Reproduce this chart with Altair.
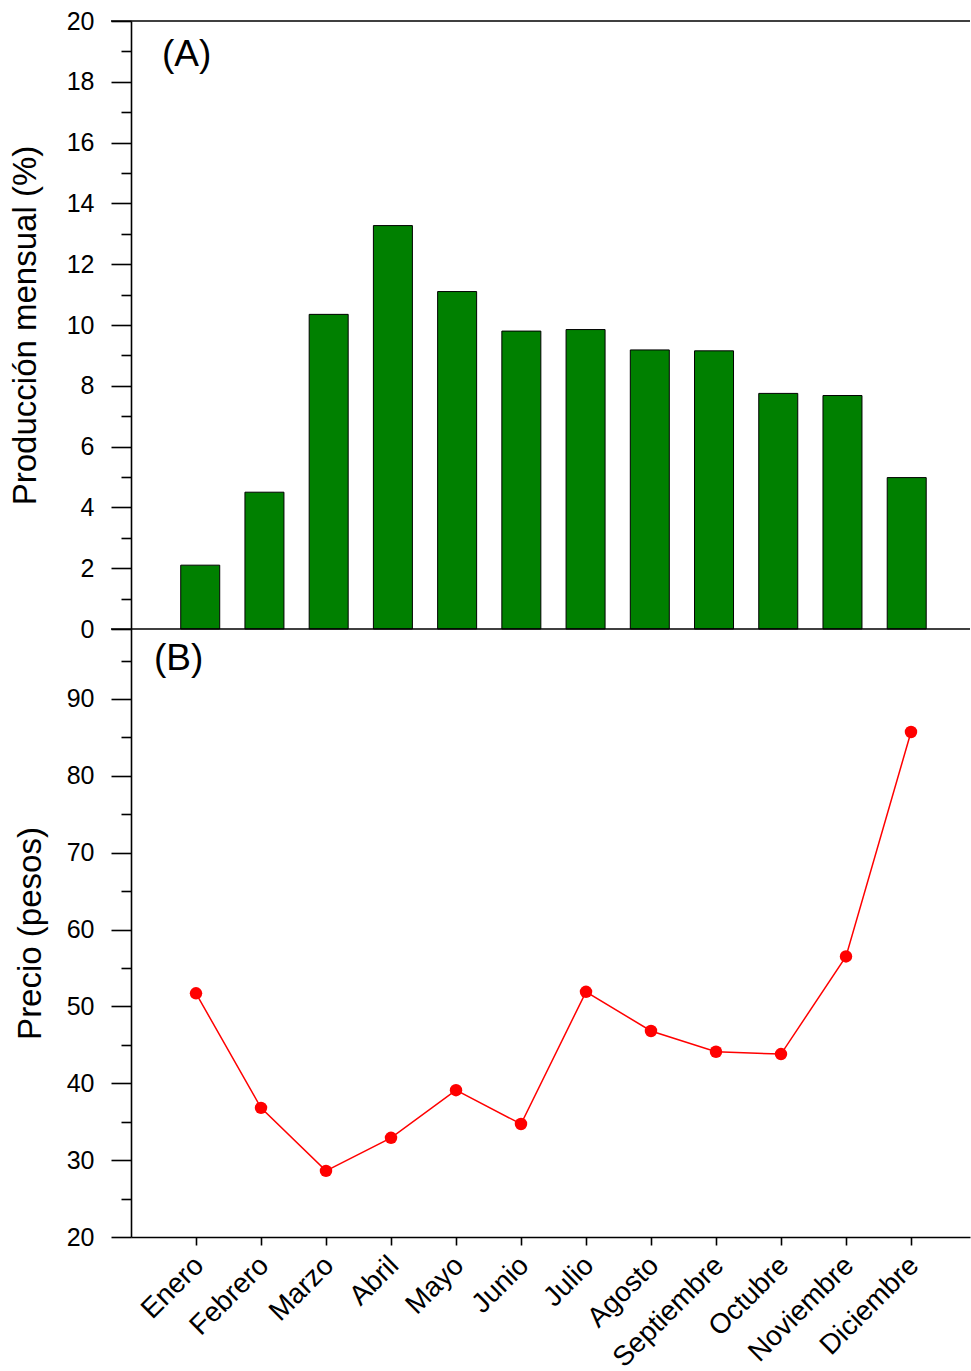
import altair as alt
import pandas as pd

meses = ["Enero", "Febrero", "Marzo", "Abril", "Mayo", "Junio", "Julio",
         "Agosto", "Septiembre", "Octubre", "Noviembre", "Diciembre"]
mes_num = list(range(1, 13))
produccion = [2.1, 4.5, 10.35, 13.27, 11.1, 9.8, 9.85, 9.18, 9.15, 7.75, 7.68, 4.98]
precio = [51.7, 36.8, 28.6, 32.9, 39.1, 34.7, 51.9, 46.8, 44.1, 43.8, 56.5, 85.7]

df = pd.DataFrame({"mes": meses, "n": mes_num, "prod": produccion, "precio": precio})

W = 839
H = 608
FONT = "Liberation Sans"
xmax = W / 65.0

x_scale = alt.Scale(domain=[0, xmax], nice=False, zero=False)

month_expr = "[" + ",".join("'%s'" % m for m in meses) + "][datum.value - 1]"

base = alt.Chart(df)

bars = base.mark_bar(color="#008000", stroke="black", strokeWidth=1, size=39).encode(
    x=alt.X("n:Q", scale=x_scale, axis=None),
    y=alt.Y("prod:Q", scale=alt.Scale(domain=[0, 20], nice=False),
            axis=alt.Axis(title="Producción mensual (%)", values=list(range(0, 21)),
                          labelExpr="datum.value % 2 === 0 ? datum.label : ''",
                          tickSize={"condition": {"test": "datum.value % 2 === 0", "value": 20}, "value": 10},
                          labelPadding=17, grid=False, titlePadding=24)),
)

frame = pd.DataFrame({"a": [0]})
top_rule = alt.Chart(frame).mark_rule(color="black", strokeWidth=1.6).encode(
    x=alt.value(-20), x2=alt.value(W), y=alt.value(0)
)
bottom_rule = alt.Chart(frame).mark_rule(color="black", strokeWidth=1.6).encode(
    x=alt.value(-20), x2=alt.value(W), y=alt.value(H)
)
label_a = alt.Chart(pd.DataFrame({"t": ["(A)"]})).mark_text(
    fontSize=37, font=FONT, align="left", baseline="alphabetic", color="black"
).encode(x=alt.value(31), y=alt.value(45), text="t:N")

top = alt.layer(bars, top_rule, bottom_rule, label_a).properties(width=W, height=H)

line = base.mark_line(color="red", strokeWidth=1.5).encode(
    x=alt.X("n:Q", scale=x_scale,
            axis=alt.Axis(title=None, values=mes_num, labelExpr=month_expr, labelAngle=-45,
                          labelAlign="right", labelBaseline="middle", tickSize=8,
                          labelPadding=16, labelOffset=3, labelFontSize=28, labelOverlap=False,
                          grid=False, domainColor="black", domainWidth=1.6)),
    y=alt.Y("precio:Q", scale=alt.Scale(domain=[20, 99.1], nice=False, zero=False),
            axis=alt.Axis(title="Precio (pesos)", values=list(range(20, 100, 5)),
                          labelExpr="datum.value % 10 === 0 ? datum.label : ''",
                          tickSize={"condition": {"test": "datum.value % 10 === 0", "value": 20}, "value": 10},
                          labelPadding=17, grid=False, titlePadding=19)),
)
points = base.mark_circle(color="red", opacity=1, size=155).encode(x="n:Q", y="precio:Q")
label_b = alt.Chart(pd.DataFrame({"t": ["(B)"]})).mark_text(
    fontSize=37, font=FONT, align="left", baseline="alphabetic", color="black"
).encode(x=alt.value(23), y=alt.value(41), text="t:N")

bottom = alt.layer(line, points, label_b).properties(width=W, height=H)

chart = alt.vconcat(top, bottom, spacing=0, bounds="flush").configure_view(stroke=None).configure_axis(
    labelFont=FONT, titleFont=FONT, labelFontSize=25, titleFontSize=33,
    labelColor="black", titleColor="black", titleFontWeight="normal",
    domainColor="black", domainWidth=1.6, tickColor="black", tickWidth=1.6,
).properties(padding={"left": 9, "top": 9, "right": 0, "bottom": 0})

chart.save("out.html", embed_options={"renderer": "svg", "actions": False})
